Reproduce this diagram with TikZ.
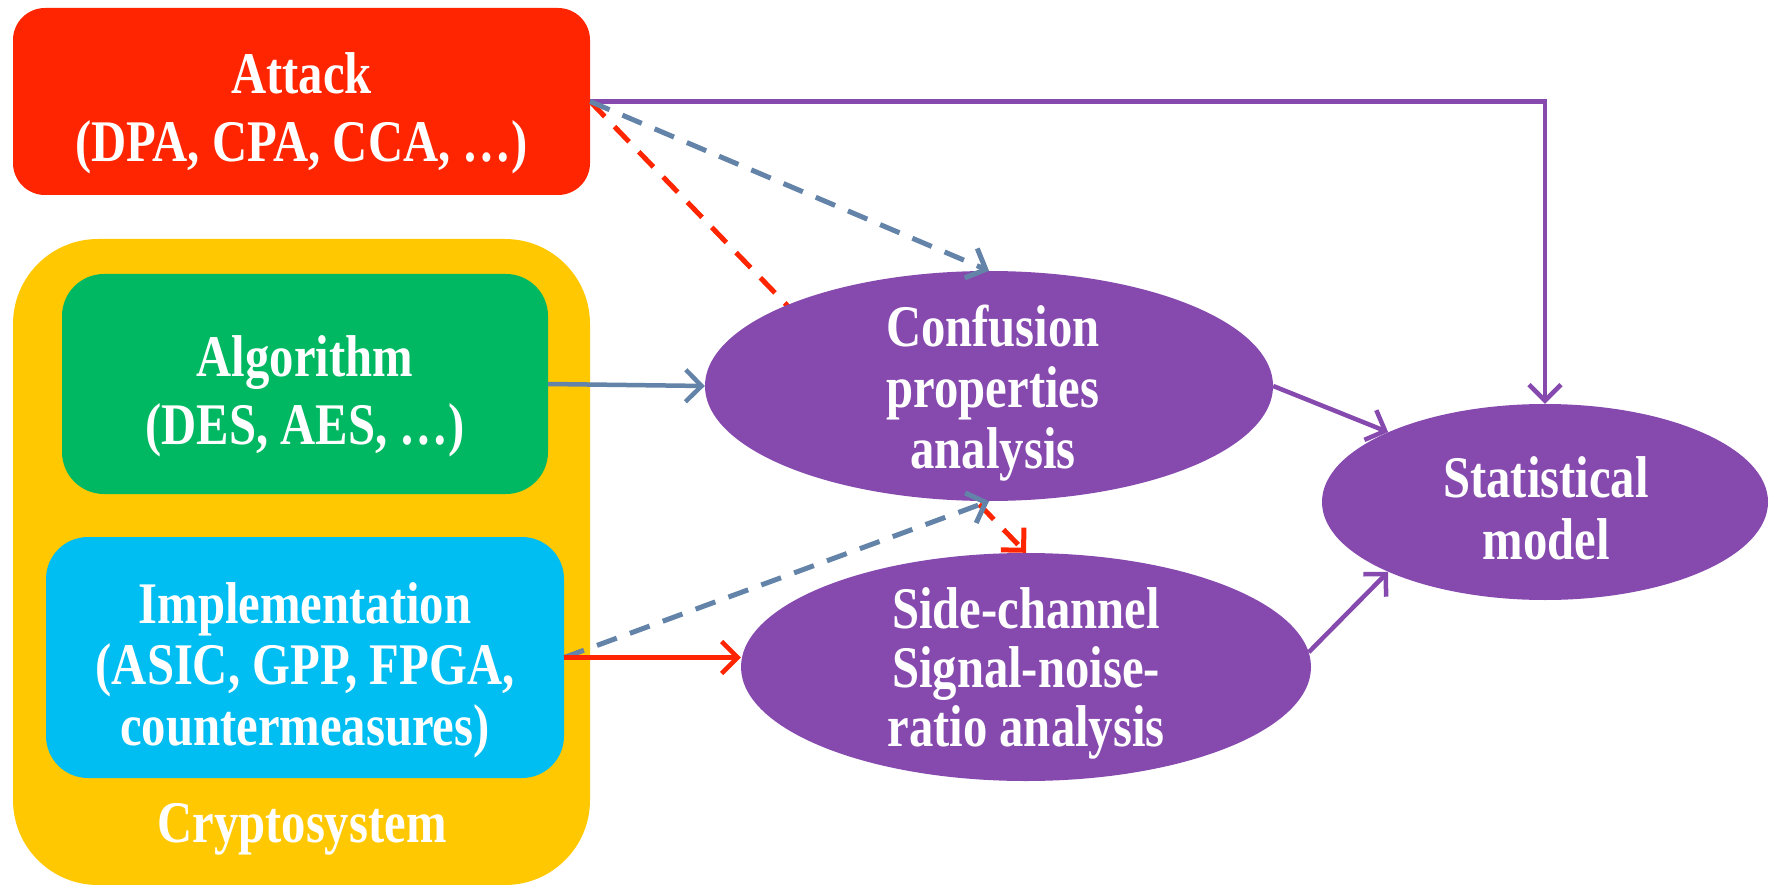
\documentclass[tikz,border=0pt]{standalone}
\usepackage{fontspec}
\setmainfont{Liberation Serif}[FakeStretch=0.825]
\usetikzlibrary{arrows.meta,shapes.geometric,backgrounds}
\definecolor{cred}{HTML}{FF2500}
\definecolor{cyellow}{HTML}{FFC800}
\definecolor{cgreen}{HTML}{00B862}
\definecolor{ccyan}{HTML}{00BEF2}
\definecolor{cpurple}{HTML}{864AAF}
\definecolor{cgray}{HTML}{6383A8}
\tikzset{
  rbox/.style={rectangle, rounded corners=#1, inner sep=0pt},
  txt/.style={text=white, align=center, font=\fontsize{59}{#1}\selectfont\bfseries, inner sep=0pt},
  oval/.style={ellipse, fill=cpurple, inner sep=0pt},
  tipA/.style={-{Straight Barb[length=16pt,width=32pt]}},
  solidline/.style={line width=4.5pt, tipA},
  dashline/.style={line width=5pt, dash pattern=on 21pt off 14pt, tipA},
}
\begin{document}
\begin{tikzpicture}[x=1pt,y=-1pt]
\useasboundingbox (0,0) rectangle (1769,885);
% boxes
\node[rbox=32, fill=cred, minimum width=577pt, minimum height=187pt] (attack) at (301.5,101.5) {};
\node[txt=68] (attackt) at (301.5,113) {Attack\\(DPA, CPA, CCA, …)};
\node[rbox=85, fill=cyellow, minimum width=577pt, minimum height=646pt] (crypto) at (301.5,562) {};
\node[txt=68] (cryptot) at (302,829) {Cryptosystem};
\node[rbox=42, fill=cgreen, minimum width=486pt, minimum height=220pt] (alg) at (305,384) {};
\node[txt=68] (algt) at (305,396) {Algorithm\\(DES, AES, …)};
\node[rbox=42, fill=ccyan, minimum width=518pt, minimum height=241pt] (impl) at (305,657.5) {};
\node[txt=61] (implt) at (305,670) {Implementation\\(ASIC, GPP, FPGA,\\countermeasures)};
% ellipses
\node[oval, minimum width=568pt, minimum height=230pt] (conf) at (989,386) {};
\node[txt=61] (conft) at (993,393) {Confusion\\properties\\analysis};
\node[oval, minimum width=570pt, minimum height=228pt] (side) at (1026,667) {};
\node[txt=59] (sidet) at (1026,673) {Side-channel\\Signal-noise-\\ratio analysis};
\node[oval, minimum width=446pt, minimum height=196pt] (stat) at (1545,502) {};
\node[txt=62] (statt) at (1546,508) {Statistical\\model};
% connectors
\begin{scope}[on background layer]
\draw[dashline, cred] (attack.east) -- (side.north);
\end{scope}
\draw[solidline, cpurple] (attack.east) -| (stat.north);
\draw[dashline, cgray] (attack.east) -- (conf.north);
\draw[solidline, cgray] (alg.east) -- (conf.west);
\draw[dashline, cgray] (impl.east) -- (conf.south);
\draw[solidline, cred] (impl.east) -- (impl.east -| side.west);
\draw[solidline, cpurple] (conf.east) -- (stat.156);
\draw[solidline, cpurple] (side.3) -- (stat.204);
\end{tikzpicture}
\end{document}
